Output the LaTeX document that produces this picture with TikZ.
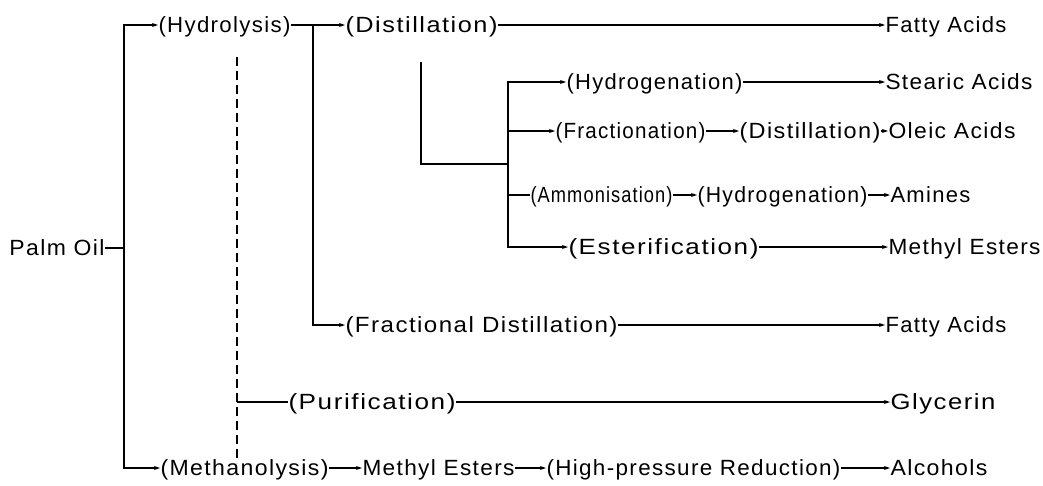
\documentclass[tikz,border=0pt]{standalone}
\usepackage{fontspec}
\setmainfont{Liberation Sans}[LetterSpace=6]
\usepackage{graphicx}
\usetikzlibrary{arrows.meta}

% set a label to a given width, keeping its height
\newcommand\tx[2]{\resizebox{#1pt}{\height}{#2}}

\tikzset{
  lbl/.style={anchor=west, inner xsep=0pt, inner ysep=0pt, outer sep=0.5pt,
              text height=15.5pt, text depth=0pt,
              font=\fontsize{22}{26}\selectfont},
  conn/.style={line width=1.1pt, line cap=butt},
  arr/.style={conn, -{Stealth[length=6pt,width=4pt]}},
  dashline/.style={line width=1.3pt, dash pattern=on 9pt off 5pt}
}

\begin{document}
\begin{tikzpicture}[x=1pt,y=-1pt]
\path[fill=white] (0,0) rectangle (1043,485);
\useasboundingbox (0,0) rectangle (1043,485);

% ---- labels ----
\node[lbl, anchor=east] (palm) at (105,248) {\tx{95}{Palm Oil}};

\node[lbl] (hyd)     at (158,25)  {\tx{132}{(Hydrolysis)}};
\node[lbl] (dist1)   at (345,25)  {\tx{152}{(Distillation)}};
\node[lbl] (fa1)     at (885,25)  {\tx{121}{Fatty Acids}};

\node[lbl] (hyg1)    at (566,82)  {\tx{176}{(Hydrogenation)}};
\node[lbl] (stearic) at (885,82)  {\tx{147}{Stearic Acids}};

\node[lbl] (frac)    at (555,131) {\tx{150}{(Fractionation)}};
\node[lbl] (dist2)   at (739,131) {\tx{141}{(Distillation)}};
\node[lbl] (oleic)   at (888,131) {\tx{127}{Oleic Acids}};

\node[lbl] (amm)     at (530,195) {\tx{142}{(Ammonisation)}};
\node[lbl] (hyg2)    at (697,195) {\tx{170}{(Hydrogenation)}};
\node[lbl] (amines)  at (890,195) {\tx{80}{Amines}};

\node[lbl] (est)     at (568,247) {\tx{190}{(Esterification)}};
\node[lbl] (me1)     at (888,247) {\tx{152}{Methyl Esters}};

\node[lbl] (fracd)   at (345,325) {\tx{272}{(Fractional Distillation)}};
\node[lbl] (fa2)     at (885,325) {\tx{121}{Fatty Acids}};

\node[lbl] (pur)     at (288,402) {\tx{167}{(Purification)}};
\node[lbl] (gly)     at (890,402) {\tx{105}{Glycerin}};

\node[lbl] (meth)    at (160,468) {\tx{168}{(Methanolysis)}};
\node[lbl] (me2)     at (362,468) {\tx{152}{Methyl Esters}};
\node[lbl] (hpr)     at (546,468) {\tx{294}{(High-pressure Reduction)}};
\node[lbl] (alc)     at (890,468) {\tx{97}{Alcohols}};

% ---- junction points ----
\coordinate (t1)   at (124,248);
\coordinate (t2)   at (313,25);
\coordinate (d1)   at (421,62);
\coordinate (t3)   at (508,164);
\coordinate (dtop) at (237,57);
\coordinate (dpur) at (237,402);
\coordinate (dbot) at (237,463);

% ---- palm oil trunk ----
\draw[conn] (palm.east) -- (t1);
\draw[arr] (t1) |- (hyd.west);
\draw[arr] (t1) |- (meth.west);

% ---- hydrolysis products ----
\draw[conn] (hyd.east) -- (t2);
\draw[arr] (t2) -- (dist1.west);
\draw[arr] (t2) |- (fracd.west);
\draw[arr] (dist1.east) -- (fa1.west);
\draw[arr] (fracd.east) -- (fa2.west);

% ---- further processing of distilled acids ----
\draw[conn] (d1) |- (t3);
\draw[arr] (t3) |- (hyg1.west);
\draw[arr] (t3) |- (frac.west);
\draw[conn] (t3) |- (amm.west);
\draw[arr] (t3) |- (est.west);
\draw[arr] (hyg1.east) -- (stearic.west);
\draw[arr] (frac.east) -- (dist2.west);
\draw[arr] (dist2.east) -- (oleic.west);
\draw[arr] (amm.east) -- (hyg2.west);
\draw[arr] (hyg2.east) -- (amines.west);
\draw[arr] (est.east) -- (me1.west);

% ---- glycerin side stream ----
\draw[dashline] (dtop) -- (dbot);
\draw[conn] (dpur) -- (pur.west);
\draw[arr] (pur.east) -- (gly.west);

% ---- methanolysis route ----
\draw[arr] (meth.east) -- (me2.west);
\draw[arr] (me2.east) -- (hpr.west);
\draw[arr] (hpr.east) -- (alc.west);
\end{tikzpicture}
\end{document}
